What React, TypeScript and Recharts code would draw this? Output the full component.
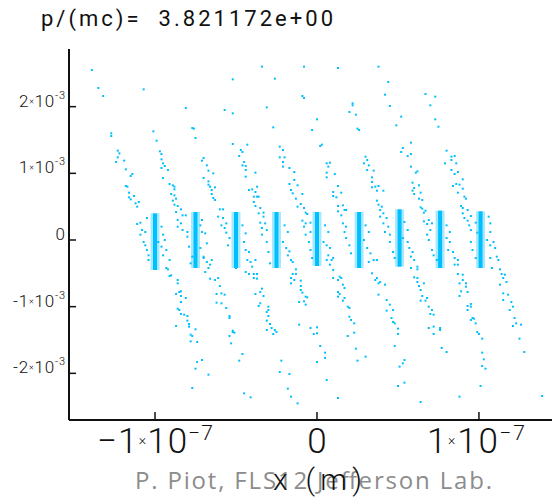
import React from "react";
import { ScatterChart, Scatter, XAxis, YAxis } from "recharts";

// x in units of 1e-7 m, y in units of 1e-3
const CYAN = "#00bfff";

const xTicks = [-1, 0, 1];
const yTicks = [-2, -1, 0, 1, 2];
const xDomain = [-1.531, 1.451];
const yDomain = [-2.7, 2.865];

// dense microbunch cores (vertical stripes)
const coreCenters = [-1.0, -0.75, -0.5, -0.25, 0.0, 0.26, 0.51, 0.76, 1.01];
const coreTops = [0.4, 0.42, 0.42, 0.42, 0.42, 0.42, 0.46, 0.44, 0.43];
const coreBottoms = [-0.45, -0.42, -0.42, -0.42, -0.39, -0.42, -0.4, -0.42, -0.42];

// sparse particles around each microbunch, [x, y]
const bunch1 = [
  [-1.39, 2.55], [-1.35, 2.28], [-1.32, 2.16], [-1.27, 1.6], [-1.27, 1.56], [-1.23, 1.34], [-1.22, 1.3], [-1.23, 1.24],
  [-1.24, 1.17], [-1.19, 1.19], [-1.18, 1.06], [-1.14, 0.99], [-1.15, 0.96], [-1.18, 0.81], [-1.17, 0.8], [-1.16, 0.71],
  [-1.16, 0.64], [-1.13, 0.66], [-1.15, 0.61], [-1.1, 0.57], [-1.12, 0.55], [-1.11, 0.5], [-1.05, 0.33], [-1.11, 0.24],
  [-1.09, 0.26], [-1.08, 0.15], [-1.06, 0.12], [-1.09, 0.08], [-0.96, 0.2], [-0.95, 0.08],
  [-1.07, -0.03], [-1.06, -0.08], [-1.05, -0.15], [-1.04, -0.23], [-1.04, -0.3], [-0.98, -0.03], [-0.96, -0.1], [-0.94, 0.0],
  [-0.93, -0.15], [-0.95, -0.23], [-0.91, -0.3], [-0.93, -0.42], [-0.92, -0.44], [-0.9, -0.53], [-0.91, -0.54],
  [-0.86, -0.6], [-0.86, -0.65], [-0.87, -0.81], [-0.85, -0.78], [-0.84, -0.77], [-0.84, -0.84], [-0.81, -0.87], [-0.84, -0.93],
  [-0.86, -1.03], [-0.85, -1.05], [-0.84, -1.11], [-0.82, -1.12], [-0.8, -1.14], [-0.8, -1.21], [-0.79, -1.26], [-0.79, -1.3],
  [-0.75, -1.34], [-0.87, -1.29], [-0.78, -1.42], [-0.77, -1.44], [-0.78, -1.52], [-0.74, -1.53], [-0.74, -1.83], [-0.71, -1.8],
  [-0.75, -1.93], [-0.67, -2.02], [-0.77, -2.22],
];

const bunch2 = [
  [-1.07, 2.26], [-1.01, 1.63], [-0.99, 1.49], [-0.97, 1.33], [-0.96, 1.29], [-0.96, 1.21], [-0.95, 1.15], [-0.94, 1.11],
  [-0.96, 1.08], [-0.92, 1.05], [-0.95, 0.93], [-0.91, 0.84], [-0.89, 0.82], [-0.88, 0.8], [-0.88, 0.76], [-0.9, 0.69],
  [-0.88, 0.67], [-0.87, 0.62], [-0.89, 0.59], [-0.88, 0.53], [-0.86, 0.51], [-0.84, 0.46], [-0.87, 0.42], [-0.83, 0.37],
  [-0.81, 0.37], [-0.86, 0.3], [-0.84, 0.25], [-0.86, 0.2], [-0.83, 0.15], [-0.8, 0.12], [-0.71, 0.12], [-0.72, 0.22],
  [-0.7, -0.27], [-0.68, -0.33], [-0.66, -0.37], [-0.69, -0.48], [-0.67, -0.42], [-0.65, -0.3], [-0.72, -0.12], [-0.8, 0.05],
  [-0.79, -0.1], [-0.77, -0.25], [-0.78, -0.35], [-0.71, 0.3], [-0.69, 0.1], [-0.68, -0.05], [-0.7, -0.25],
  [-0.66, -0.58], [-0.63, -0.6], [-0.61, -0.57], [-0.6, -0.69], [-0.62, -0.81], [-0.59, -0.8], [-0.57, -0.82], [-0.62, -0.94],
  [-0.59, -0.95], [-0.56, -1.02], [-0.54, -1.14], [-0.54, -1.17], [-0.52, -1.38], [-0.54, -1.44], [-0.53, -1.55], [-0.52, -1.36],
  [-0.51, -1.39], [-0.46, -1.71], [-0.48, -1.81], [-0.45, -2.3], [-0.41, -2.36],
];

const bunch3 = [
  [-0.81, 1.98], [-0.77, 1.68], [-0.76, 1.67], [-0.75, 1.53], [-0.7, 1.23], [-0.71, 1.19], [-0.68, 1.12], [-0.67, 1.04],
  [-0.64, 1.0], [-0.7, 0.93], [-0.67, 0.88], [-0.67, 0.83], [-0.66, 0.8], [-0.65, 0.75], [-0.63, 0.79], [-0.65, 0.69],
  [-0.64, 0.63], [-0.63, 0.6], [-0.6, 0.46], [-0.58, 0.46], [-0.61, 0.35], [-0.58, 0.33], [-0.59, 0.22], [-0.56, 0.25],
  [-0.57, 0.18], [-0.56, 0.11],
  [-0.45, -0.03], [-0.44, -0.15], [-0.42, -0.18], [-0.43, -0.3], [-0.41, -0.33], [-0.5, -0.42], [-0.54, 0.03], [-0.55, -0.08],
  [-0.46, 0.22], [-0.44, 0.1],
  [-0.44, -0.48], [-0.42, -0.51], [-0.39, -0.51], [-0.37, -0.51], [-0.39, -0.57], [-0.37, -0.58], [-0.4, -0.4], [-0.38, -0.3],
  [-0.34, -0.73], [-0.35, -0.78], [-0.38, -0.81], [-0.33, -0.84], [-0.35, -0.95], [-0.36, -0.99], [-0.3, -1.0], [-0.3, -1.05],
  [-0.31, -1.08], [-0.3, -1.14], [-0.31, -1.21], [-0.29, -1.26], [-0.31, -1.35], [-0.28, -1.32], [-0.26, -1.35], [-0.27, -1.41],
  [-0.25, -1.38], [-0.22, -1.81], [-0.23, -1.98], [-0.17, -2.01], [-0.18, -2.23], [-0.16, -2.35], [-0.12, -2.45],
];

const bunch4 = [
  [-0.57, 1.95], [-0.52, 1.9], [-0.52, 2.41], [-0.52, 1.44], [-0.47, 1.35], [-0.46, 1.32], [-0.43, 1.43], [-0.48, 1.26],
  [-0.45, 1.17], [-0.46, 1.12], [-0.44, 1.11], [-0.44, 1.05], [-0.38, 1.01], [-0.44, 0.95], [-0.37, 0.8], [-0.42, 0.75],
  [-0.4, 0.76], [-0.38, 0.72], [-0.39, 0.65], [-0.37, 0.65], [-0.36, 0.65], [-0.39, 0.57], [-0.38, 0.51], [-0.35, 0.48],
  [-0.33, 0.41], [-0.36, 0.4], [-0.33, 0.35], [-0.35, 0.26], [-0.32, 0.25], [-0.34, 0.18], [-0.31, 0.15], [-0.34, 0.08],
  [-0.31, -0.03], [-0.3, -0.18], [-0.29, -0.35], [-0.21, -0.03], [-0.19, -0.12], [-0.18, -0.23], [-0.16, -0.3], [-0.17, -0.17],
  [-0.15, -0.33], [-0.2, 0.22], [-0.18, 0.12],
  [-0.13, -0.44], [-0.15, -0.51], [-0.13, -0.51], [-0.16, -0.57], [-0.14, -0.6], [-0.16, -0.65], [-0.1, -0.61], [-0.1, -0.69],
  [-0.1, -0.75], [-0.09, -0.79], [-0.07, -0.85], [-0.06, -0.86], [-0.11, -0.93], [-0.08, -0.92], [-0.07, -0.97], [-0.11, -1.27],
  [-0.04, -1.32], [0.0, -1.31], [-0.02, -1.41], [0.0, -1.4], [0.02, -1.59], [0.05, -1.69], [0.05, -1.77], [0.0, -1.83],
  [0.06, -2.1], [0.13, -2.37],
];

const bunch5 = [
  [-0.34, 2.6], [-0.26, 2.42], [-0.31, 1.99], [-0.27, 1.69], [-0.23, 1.4], [-0.21, 1.35], [-0.23, 1.24], [-0.2, 1.24],
  [-0.21, 1.17], [-0.21, 1.1], [-0.17, 1.08], [-0.14, 1.02], [-0.14, 0.9], [-0.17, 0.84], [-0.12, 0.82], [-0.16, 0.75],
  [-0.15, 0.7], [-0.09, 0.69], [-0.13, 0.62], [-0.1, 0.54], [-0.12, 0.5], [-0.08, 0.48], [-0.07, 0.41], [-0.06, 0.39],
  [-0.09, 0.29], [-0.07, 0.25], [-0.04, 0.26], [-0.08, 0.2], [-0.04, 0.12], [-0.07, 0.08],
  [-0.05, -0.03], [-0.04, -0.15], [-0.03, -0.27], [0.04, -0.03], [0.06, -0.08], [0.08, -0.12], [0.07, -0.23], [0.06, -0.3],
  [0.09, -0.3], [0.1, -0.27], [0.08, -0.37], [0.05, 0.22], [0.07, 0.12],
  [0.1, -0.45], [0.1, -0.57], [0.14, -0.55], [0.15, -0.57], [0.13, -0.6], [0.16, -0.67], [0.17, -0.72], [0.13, -0.78],
  [0.14, -0.81], [0.13, -0.85], [0.17, -0.87], [0.16, -0.91], [0.19, -1.0], [0.2, -1.02], [0.2, -1.15], [0.21, -1.2],
  [0.23, -1.25], [0.23, -1.39], [0.19, -1.44], [0.24, -1.63], [0.25, -1.81], [0.3, -1.75],
];

const bunch6 = [
  [-0.08, 2.6], [-0.09, 2.16], [-0.08, 2.13], [0.0, 1.81], [-0.03, 1.65], [0.02, 1.41], [0.03, 1.43], [0.06, 1.15],
  [0.08, 1.16], [0.07, 1.1], [0.06, 1.01], [0.11, 0.99], [0.06, 0.94], [0.13, 0.81], [0.1, 0.72], [0.1, 0.66],
  [0.15, 0.71], [0.12, 0.64], [0.13, 0.51], [0.16, 0.52], [0.13, 0.43], [0.17, 0.45], [0.18, 0.45], [0.15, 0.37],
  [0.16, 0.25], [0.18, 0.2], [0.17, 0.12],
  [0.18, 0.03], [0.2, -0.08], [0.21, -0.2], [0.29, 0.0], [0.31, -0.12], [0.33, -0.2], [0.35, -0.3], [0.32, -0.33],
  [0.37, -0.3], [0.3, 0.22], [0.32, 0.12],
  [0.34, -0.5], [0.37, -0.57], [0.36, -0.6], [0.39, -0.63], [0.38, -0.65], [0.42, -0.67], [0.38, -0.82], [0.43, -0.9],
  [0.45, -0.97], [0.43, -1.06], [0.46, -1.17], [0.47, -1.23], [0.47, -1.05], [0.48, -1.25], [0.5, -1.33], [0.5, -1.41],
  [0.48, -1.59], [0.54, -1.8], [0.53, -1.85], [0.51, -1.9], [0.54, -2.14], [0.5, -2.19], [0.64, -2.43],
];

const bunch7 = [
  [0.13, 2.58], [0.22, 2.05], [0.22, 2.02], [0.2, 1.92], [0.24, 1.88], [0.25, 1.67], [0.26, 1.65], [0.3, 1.25],
  [0.31, 1.2], [0.29, 1.15], [0.32, 1.12], [0.31, 1.05], [0.35, 1.04], [0.34, 0.94], [0.34, 0.87], [0.34, 0.79],
  [0.36, 0.8], [0.38, 0.81], [0.37, 0.74], [0.41, 0.74], [0.37, 0.59], [0.38, 0.53], [0.4, 0.5], [0.39, 0.45],
  [0.41, 0.4], [0.39, 0.35], [0.43, 0.33], [0.41, 0.25], [0.44, 0.2], [0.42, 0.12], [0.45, 0.08],
  [0.45, -0.03], [0.47, -0.18], [0.48, -0.27], [0.53, 0.03], [0.56, -0.03], [0.57, -0.12], [0.59, -0.18], [0.58, -0.25],
  [0.6, -0.3], [0.62, -0.4], [0.58, -0.42], [0.62, -0.44], [0.54, 0.27], [0.56, 0.15],
  [0.6, -0.56], [0.62, -0.57], [0.62, -0.63], [0.66, -0.65], [0.63, -0.69], [0.64, -0.75], [0.65, -0.84], [0.68, -0.87],
  [0.64, -0.91], [0.67, -0.91], [0.69, -1.0], [0.71, -1.05], [0.7, -1.11], [0.72, -1.12], [0.69, -1.32], [0.72, -1.3],
  [0.76, -1.32], [0.76, -1.35], [0.72, -1.41], [0.77, -1.62], [0.8, -1.68], [0.88, -2.35],
];

const bunch8 = [
  [0.38, 2.6], [0.44, 2.37], [0.42, 2.18], [0.45, 2.01], [0.52, 1.85], [0.49, 1.72], [0.58, 1.46], [0.53, 1.38],
  [0.52, 1.32], [0.58, 1.29], [0.56, 1.26], [0.58, 1.1], [0.62, 1.03], [0.61, 1.01], [0.59, 0.86], [0.63, 0.82],
  [0.6, 0.78], [0.59, 0.74], [0.64, 0.71], [0.6, 0.69], [0.63, 0.62], [0.65, 0.6], [0.64, 0.49], [0.67, 0.44],
  [0.65, 0.47], [0.66, 0.41], [0.66, 0.28], [0.69, 0.3], [0.68, 0.24], [0.71, 0.25], [0.7, 0.15], [0.68, 0.08],
  [0.69, 0.0], [0.71, -0.15], [0.72, -0.23], [0.74, -0.3], [0.8, 0.03], [0.82, -0.03], [0.81, -0.15], [0.84, -0.18],
  [0.85, -0.27], [0.87, -0.3], [0.85, -0.37], [0.87, -0.37], [0.8, 0.22], [0.82, 0.12],
  [0.87, -0.51], [0.9, -0.52], [0.9, -0.6], [0.88, -0.65], [0.92, -0.65], [0.92, -0.7], [0.89, -0.77], [0.93, -0.78],
  [0.88, -0.84], [0.95, -0.96], [0.93, -0.99], [0.95, -1.0], [0.93, -1.05], [0.96, -1.17], [0.97, -1.18], [0.95, -1.2],
  [0.98, -1.25], [0.99, -1.38], [1.0, -1.41], [1.02, -1.48], [1.02, -1.69], [1.03, -1.79], [1.02, -1.89], [1.04, -1.93],
  [1.01, -2.19],
];

const bunch9 = [
  [0.67, 2.19], [0.73, 2.15], [0.7, 2.02], [0.73, 1.81], [0.75, 1.7], [0.8, 1.34], [0.83, 1.25], [0.85, 1.26],
  [0.83, 1.2], [0.79, 1.15], [0.86, 1.15], [0.83, 1.05], [0.87, 1.02], [0.85, 0.99], [0.9, 0.91], [0.84, 0.81],
  [0.86, 0.84], [0.88, 0.83], [0.9, 0.77], [0.87, 0.71], [0.91, 0.65], [0.92, 0.62], [0.89, 0.51], [0.9, 0.48],
  [0.93, 0.45], [0.9, 0.4], [0.91, 0.33], [0.93, 0.29], [0.95, 0.36], [0.94, 0.22], [0.98, 0.26], [0.95, 0.15],
  [0.99, 0.11],
  [1.07, 0.25], [1.07, 0.12], [1.06, 0.35], [0.95, -0.03], [0.96, -0.15], [0.98, -0.27], [1.05, 0.0], [1.07, -0.08],
  [1.09, -0.03], [1.07, -0.27], [1.08, -0.42], [1.11, -0.25], [1.12, -0.3], [1.1, -0.12],
  [1.13, -0.44], [1.14, -0.51], [1.16, -0.52], [1.15, -0.57], [1.17, -0.63], [1.13, -0.67], [1.15, -0.8], [1.18, -0.82],
  [1.15, -0.9], [1.2, -0.93], [1.21, -1.0], [1.19, -1.05], [1.22, -1.17], [1.23, -1.25], [1.21, -1.29], [1.26, -1.27],
  [1.25, -1.48], [1.28, -1.68], [1.39, -2.34],
];

const bunches = [bunch1, bunch2, bunch3, bunch4, bunch5, bunch6, bunch7, bunch8, bunch9];

const W = 552;
const H = 498;
const PLOT_LEFT = 69;
const PLOT_TOP = 49;
const PLOT_BOTTOM = 420;
const FONT = "Roboto, 'Liberation Sans', sans-serif";

const dot = (p: any) => (
  <rect x={p.cx - 1} y={p.cy - 1} width={2} height={2} fill={CYAN} />
);

function YTick({ y, payload }: any) {
  const v = payload.value;
  const len = v === 0 ? undefined : v < 0 ? 52 : 46;
  return (
    <g>
      <line x1={PLOT_LEFT} x2={PLOT_LEFT + 7} y1={y} y2={y} stroke="#111" strokeWidth={1.5} />
      {v === 0 ? (
        <text x={65} y={y} textAnchor="end" fontSize={17} fontFamily={FONT} fontWeight={300} fill="#111">0</text>
      ) : (
        <text x={65} y={y} textAnchor="end" fontSize={17} fontFamily={FONT} fontWeight={300} fill="#111"
          textLength={len} lengthAdjust="spacing">
          <tspan>{v < 0 ? "-" + Math.abs(v) : String(v)}</tspan>
          <tspan fontSize={9} dy={-3}>×</tspan>
          <tspan dy={3}>10</tspan>
          <tspan fontSize={11} dy={-8}>-3</tspan>
        </text>
      )}
    </g>
  );
}

function XTickBottom({ x, payload }: any) {
  const v = payload.value;
  return (
    <g>
      <line x1={x} x2={x} y1={PLOT_BOTTOM} y2={PLOT_BOTTOM - 8} stroke="#111" strokeWidth={1.5} />
      {v === 0 ? (
        <text x={x} y={453} textAnchor="middle" fontSize={35} fontFamily={FONT} fontWeight={300} fill="#111">0</text>
      ) : (
        <text x={v < 0 ? x : x - 3} y={453} textAnchor="middle" fontSize={35} fontFamily={FONT} fontWeight={300}
          fill="#111" textLength={v < 0 ? 116 : 98} lengthAdjust="spacing">
          <tspan>{v < 0 ? "\u22121" : "1"}</tspan>
          <tspan fontSize={14} dy={-8}>×</tspan>
          <tspan dy={8}>10</tspan>
          <tspan fontSize={21} dy={-13}>{"\u22127"}</tspan>
        </text>
      )}
    </g>
  );
}

function XTickTop({ x }: any) {
  return <line x1={x} x2={x} y1={PLOT_TOP} y2={PLOT_TOP + 8} stroke="#111" strokeWidth={1.5} />;
}

export default function App() {
  return (
    <div style={{ position: "absolute", left: 0, top: 0, width: W, height: H, background: "#fff", overflow: "hidden" }}>
      <ScatterChart width={W} height={H} margin={{ top: PLOT_TOP, right: 0, bottom: 0, left: 0 }}>
        <XAxis
          xAxisId="top"
          orientation="top"
          type="number"
          dataKey="x"
          domain={xDomain}
          ticks={xTicks}
          height={0}
          axisLine={{ stroke: "#555", strokeWidth: 1.5 }}
          tickLine={false}
          tick={<XTickTop />}
          allowDataOverflow
        />
        <XAxis
          type="number"
          dataKey="x"
          domain={xDomain}
          ticks={xTicks}
          height={H - PLOT_BOTTOM}
          axisLine={{ stroke: "#111", strokeWidth: 2 }}
          tickLine={false}
          tick={<XTickBottom />}
          allowDataOverflow
        />
        <YAxis
          type="number"
          dataKey="y"
          domain={yDomain}
          ticks={yTicks}
          width={PLOT_LEFT}
          axisLine={{ stroke: "#111", strokeWidth: 2 }}
          tickLine={false}
          tick={<YTick />}
          allowDataOverflow
        />
        {coreCenters.map((c, i) => (
          <Scatter
            key={"h" + i}
            data={[
              { x: c, y: coreTops[i] },
              { x: c, y: coreBottoms[i] },
            ]}
            line={{ stroke: CYAN, strokeWidth: 9, strokeOpacity: 0.35 }}
            shape={() => <g />}
            isAnimationActive={false}
          />
        ))}
        {bunches.map((b, i) => (
          <Scatter
            key={"b" + i}
            data={b.map(([x, y]) => ({ x, y }))}
            shape={dot}
            isAnimationActive={false}
          />
        ))}
        {coreCenters.map((c, i) => (
          <Scatter
            key={"c" + i}
            data={[
              { x: c, y: coreTops[i] },
              { x: c, y: coreBottoms[i] },
            ]}
            line={{ stroke: CYAN, strokeWidth: 4 }}
            shape={() => <g />}
            isAnimationActive={false}
          />
        ))}
      </ScatterChart>
      <svg width={W} height={H} style={{ position: "absolute", left: 0, top: 0, pointerEvents: "none" }}>
        <text x={41} y={26} fontSize={22} fontFamily={FONT} fontWeight={400} fill="#111" textLength={292}
          lengthAdjust="spacing" style={{ whiteSpace: "pre" }}>
          p/(mc)=  3.821172e+00
        </text>
        <text x={135} y={489} fontSize={24} fontFamily="'Open Sans', 'Noto Sans', sans-serif" fill="#8c8c8c"
          textLength={357} lengthAdjust="spacing">
          P. Piot, FLS12 Jefferson Lab.
        </text>
        <text x={273} y={490} fontSize={30} fontFamily={FONT} fontWeight={300} fill="#111" textLength={89}
          lengthAdjust="spacing">
          x (m)
        </text>
      </svg>
    </div>
  );
}
